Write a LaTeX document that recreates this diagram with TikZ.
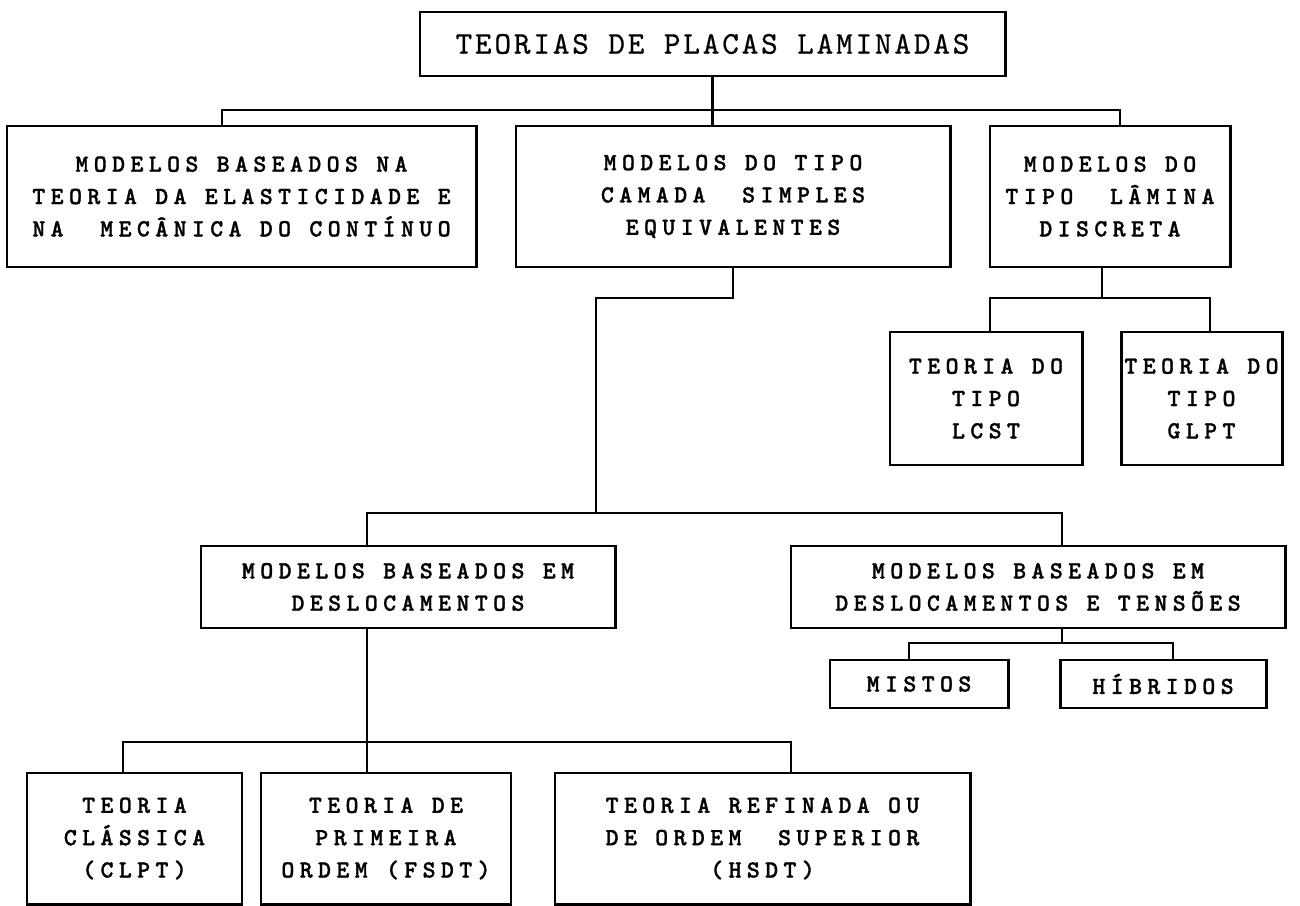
\documentclass[tikz,border=0pt]{standalone}
\usepackage{fontspec}
\usepackage{tikz}
\newfontfamily\titlefont{lmmono10-regular}[Extension=.otf, LetterSpace=9, FakeBold=0.6]
\newfontfamily\blockfont{lmmonolt10-bold}[Extension=.otf, LetterSpace=22, FakeBold=1.2]
\tikzset{
  block/.style={draw, line width=1.7pt, inner sep=0pt, align=center,
    font=\blockfont\fontsize{14}{18.4}\selectfont},
  link/.style={line width=1.3pt}
}
\begin{document}
\begin{tikzpicture}[x=0.2mm,y=-0.2mm]
        \useasboundingbox (0,0) rectangle (1300,906);
        % Nodes
        \node[block, font=\titlefont\fontsize{18}{20}\selectfont,
              minimum width=117mm, minimum height=12.8mm] (teorias) at (712.5,44) {TEORIAS DE PLACAS LAMINADAS};
        \node[block, minimum width=93.8mm, minimum height=28.2mm] (elast) at (241.5,196.5)
              {MODELOS BASEADOS NA\\TEORIA DA ELASTICIDADE E\\NA\ \ MECÂNICA DO CONTÍNUO};
        \node[block, minimum width=86.8mm, minimum height=28.2mm] (camada) at (733,196.5)
              {MODELOS DO TIPO\\CAMADA\ \ SIMPLES\\EQUIVALENTES};
        \node[block, minimum width=48mm, minimum height=28.2mm] (lamina) at (1110,196.5)
              {MODELOS DO\\TIPO\ \ LÂMINA\\DISCRETA};
        \node[block, minimum width=38.4mm, minimum height=26.6mm] (lcst) at (986,398.5)
              {TEORIA DO\\TIPO\\LCST};
        \node[block, minimum width=32.2mm, minimum height=26.6mm] (glpt) at (1201.5,398.5)
              {TEORIA DO\\TIPO\\GLPT};
        \node[block, minimum width=82.8mm, minimum height=16.4mm] (desloc) at (408,587)
              {MODELOS BASEADOS EM\\DESLOCAMENTOS};
        \node[block, minimum width=98.8mm, minimum height=16.4mm] (tensoes) at (1038,587)
              {MODELOS BASEADOS EM\\DESLOCAMENTOS E TENSÕES};
        \node[block, minimum width=35.6mm, minimum height=9.6mm] (mistos) at (919,684) {MISTOS};
        \node[block, minimum width=41.2mm, minimum height=9.6mm] (hibridos) at (1163,684) {HÍBRIDOS};
        \node[block, minimum width=43mm, minimum height=26.2mm] (clpt) at (134.5,838.5)
              {TEORIA\\CLÁSSICA\\(CLPT)};
        \node[block, minimum width=50mm, minimum height=26.2mm] (fsdt) at (386,838.5)
              {TEORIA DE\\PRIMEIRA\\ORDEM (FSDT)};
        \node[block, minimum width=83mm, minimum height=26.2mm] (hsdt) at (762.5,838.5)
              {TEORIA REFINADA OU\\DE ORDEM\ \ SUPERIOR\\(HSDT)};
        % Junctions
        \coordinate (bus1l) at (222,110);
        \coordinate (bus1r) at (1120,110);
        \coordinate (kneeB) at (596,298);
        \coordinate (bus2l) at (367,513);
        \coordinate (bus2r) at (1062,513);
        \coordinate (kneeC) at (1102,298);
        \coordinate (bus3l) at (990,298);
        \coordinate (bus3r) at (1210,298);
        \coordinate (bus4l) at (909,643);
        \coordinate (bus4r) at (1173,643);
        \coordinate (bus5l) at (123,742);
        \coordinate (bus5r) at (791,742);
        % Edges
        \draw[link] (teorias.south) -- (camada.north -| teorias.south);
        \draw[link] (elast.north -| bus1l) -- (bus1l) -- (bus1r) -- (lamina.north -| bus1r);
        \draw[link] (camada.south) |- (kneeB) -- (kneeB |- bus2l);
        \draw[link] (desloc.north -| bus2l) -- (bus2l) -- (bus2r) -- (tensoes.north -| bus2r);
        \draw[link] (lamina.south -| kneeC) -- (kneeC);
        \draw[link] (lcst.north -| bus3l) -- (bus3l) -- (bus3r) -- (glpt.north -| bus3r);
        \draw[link] (tensoes.south -| bus2r) -- (bus2r |- bus4l);
        \draw[link] (mistos.north -| bus4l) -- (bus4l) -- (bus4r) -- (hibridos.north -| bus4r);
        \draw[link] (desloc.south -| bus2l) -- (fsdt.north -| bus2l);
        \draw[link] (clpt.north -| bus5l) -- (bus5l) -- (bus5r) -- (hsdt.north -| bus5r);
\end{tikzpicture}
\end{document}
